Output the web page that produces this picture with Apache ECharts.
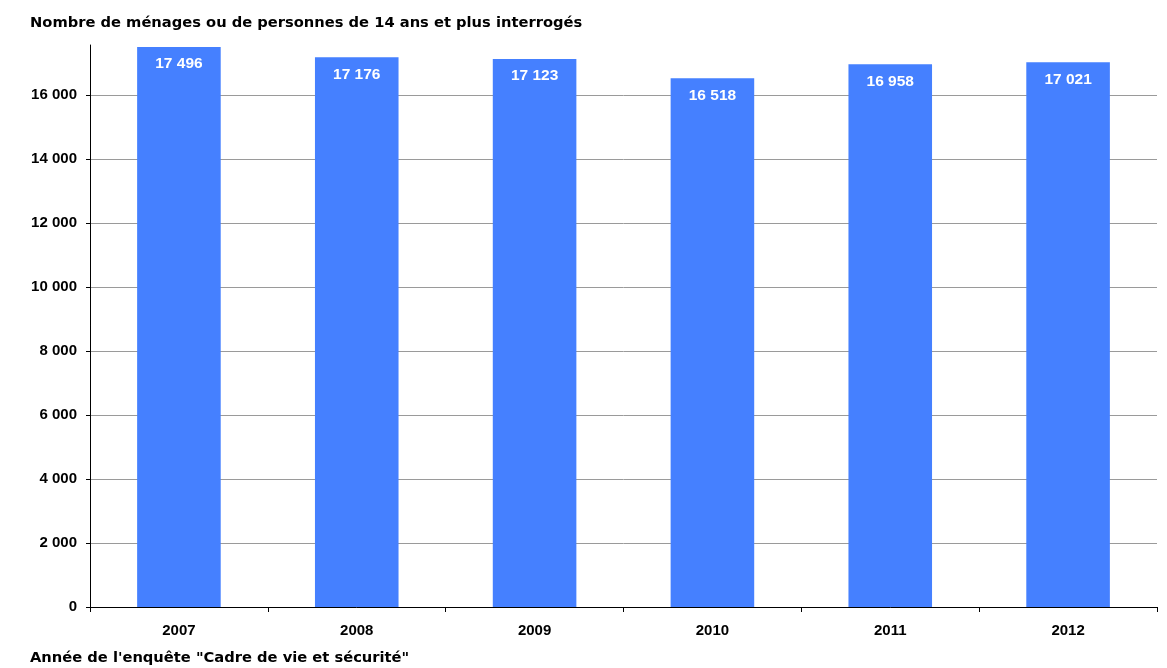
<!DOCTYPE html>
<html><head><meta charset="utf-8">
<script src="https://cdn.jsdelivr.net/npm/echarts@6/dist/echarts.min.js"></script>
<style>html,body{margin:0;padding:0;background:#fff}#c{width:1167px;height:668px}</style>
</head><body><div id="c"></div>
<script>
const categories = ['2007','2008','2009','2010','2011','2012'];
const values = [17496, 17176, 17123, 16518, 16958, 17021];
const yTicks = [0, 2000, 4000, 6000, 8000, 10000, 12000, 14000, 16000];
const titleText = 'Nombre de ménages ou de personnes de 14 ans et plus interrogés';
const xName = 'Année de l\'enquête "Cadre de vie et sécurité"';

function fmt(v){ return String(v).replace(/\B(?=(\d{3})+(?!\d))/g, ' '); }
const FONT = '"Liberation Sans", Arial, sans-serif';
const WFONT = '"DejaVu Sans", sans-serif';
const chart = echarts.init(document.getElementById('c'));
chart.setOption({
  animation: false,
  title: { text: titleText, left: 25, top: 11, textStyle: { fontFamily: WFONT, fontSize: 14.7, fontWeight: 'bold', color: '#000' } },
  graphic: [{ type: 'text', left: 30, top: 651, style: { text: xName, font: 'bold 14.7px "DejaVu Sans", sans-serif', fill: '#000' } }],
  grid: { left: 90, right: 10, top: 45, bottom: 61, containLabel: false },
  xAxis: {
    type: 'category', data: categories,
    axisLine: { lineStyle: { color: '#000', width: 1 } },
    axisTick: { show: true, length: 5, lineStyle: { color: '#000' } },
    axisLabel: { fontFamily: FONT, fontSize: 15, fontWeight: 'bold', color: '#000', margin: 16 }
  },
  yAxis: {
    type: 'value', min: 0, max: 17560, interval: 2000,
    axisLine: { show: true, lineStyle: { color: '#000', width: 1 } },
    axisTick: { show: true, length: 4, lineStyle: { color: '#000' } },
    axisLabel: { showMaxLabel: false, fontFamily: FONT, fontSize: 15, fontWeight: 'bold', color: '#000', margin: 13,
      formatter: v => yTicks.includes(v) ? fmt(v) : '' },
    splitLine: { show: true, showMaxLine: false, lineStyle: { color: '#9a9a9a', width: 1 } }
  },
  series: [{
    type: 'bar', data: values, barWidth: '47%',
    itemStyle: { color: '#4580FF' },
    label: { show: true, position: 'insideTop', distance: 9, formatter: p => fmt(p.value),
      fontFamily: FONT, fontSize: 15.5, fontWeight: 'bold', color: '#fff' }
  }]
});
</script></body></html>
